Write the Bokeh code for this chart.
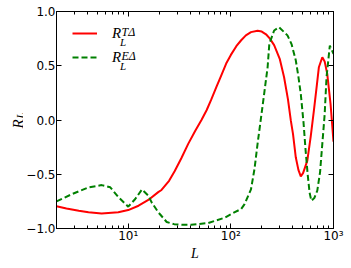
import math
from bokeh.plotting import figure
from bokeh.layouts import row
from bokeh.models import FixedTicker, LogAxis, LinearAxis, Label, Legend, LegendItem, Range1d
from bokeh.embed import file_html
from bokeh.resources import INLINE

# ---- data ----
L_T = [2.0, 2.5, 3.3, 4.1, 5.5, 8.0, 10.0, 12.6, 15.7, 19.6, 21.1, 25.0, 28.4, 33.0, 38.4, 45.0,
       51.7, 58.0, 64.5, 72.0, 80.5, 90.0, 100.0, 113.0, 126.0, 140.0, 157.0, 182.0, 200.0,
       220.0, 240.0, 264.0, 300.0, 330.0, 360.0, 384.0, 403.0, 429.0, 455.0, 480.0, 505.0,
       556.0, 600.0, 644.0, 690.0, 720.0, 778.0, 820.0, 869.0, 936.0, 1000.0]
R_T = [-0.795, -0.815, -0.836, -0.851, -0.862, -0.851, -0.830, -0.790, -0.737, -0.665, -0.645,
       -0.56, -0.47, -0.35, -0.22, -0.10, 0.0, 0.09, 0.19, 0.30, 0.41, 0.52, 0.60, 0.68, 0.735,
       0.78, 0.81, 0.822, 0.815, 0.79, 0.75, 0.69, 0.56, 0.394, 0.19, -0.006, -0.128, -0.344,
       -0.46, -0.519, -0.49, -0.375, -0.15, 0.087, 0.33, 0.486, 0.578, 0.54, 0.425, 0.149, -0.20]

L_E = [2.0, 2.85, 4.13, 5.5, 6.68, 8.05, 10.0, 11.7, 13.6, 15.7, 16.9, 19.6, 23.7, 28.0, 33.0,
       41.0, 60.0, 87.0, 108.0, 126.0, 136.0, 157.0, 170.0, 182.0, 196.0, 211.0, 228.0, 237.0,
       264.0, 295.0, 356.0, 390.0, 429.0, 455.0, 480.0, 510.0, 535.0, 560.0, 585.0, 608.0,
       650.0, 695.0, 740.0, 778.0, 820.0, 855.0, 921.0, 1000.0]
R_E = [-0.75, -0.682, -0.62, -0.60, -0.62, -0.713, -0.799, -0.728, -0.64, -0.697, -0.759, -0.85,
       -0.94, -0.96, -0.965, -0.965, -0.95, -0.90, -0.852, -0.82, -0.775, -0.64, -0.45, -0.22,
       0.01, 0.241, 0.486, 0.702, 0.825, 0.855, 0.78, 0.70, 0.55, 0.40, 0.241, -0.02, -0.282,
       -0.50, -0.67, -0.744, -0.72, -0.651, -0.48, -0.22, 0.05, 0.394, 0.686, 0.61]

x_ticks = [10, 100, 1000]
x_tick_labels = ["10\u00b9", "10\u00b2", "10\u00b3"]
x_minor = [2, 3, 4, 5, 6, 7, 8, 9, 20, 30, 40, 50, 60, 70, 80, 90,
           200, 300, 400, 500, 600, 700, 800, 900]
y_ticks = [-1.0, -0.5, 0.0, 0.5, 1.0]
y_tick_labels = ["\u22121.0", "\u22120.5", "0.0", "0.5", "1.0"]
x_title = "L"
y_title = "R"
y_title_sub = "L"
legend_names = ["R", "R"]
legend_sups = ["T\u0394", "E\u0394"]
legend_subs = ["L", "L"]

SERIF = "Liberation Serif"

# ---- narrow panel holding the y-axis title (its frame is aligned with the main frame) ----
q = figure(width=23, height=268, x_range=Range1d(0, 1), y_range=Range1d(0, 1),
           x_axis_location=None, y_axis_location=None, output_backend="svg",
           toolbar_location=None, min_border=0)
q.outline_line_color = None
q.xgrid.grid_line_color = None
q.ygrid.grid_line_color = None
q.add_layout(Label(text=y_title, x=17, y=100, x_units="screen", y_units="screen",
                   angle=math.pi / 2, text_font=SERIF, text_font_style="italic",
                   text_font_size="15px", text_color="black", text_baseline="alphabetic"))
q.add_layout(Label(text=y_title_sub, x=19.5, y=110, x_units="screen", y_units="screen",
                   angle=math.pi / 2, text_font=SERIF, text_font_style="italic",
                   text_font_size="11px", text_color="black", text_baseline="alphabetic"))

# ---- main plot ----
p = figure(width=328, height=268, x_axis_type="log",
           x_range=Range1d(2, 1000), y_range=Range1d(-1, 1),
           output_backend="svg", toolbar_location=None,
           min_border_left=31, min_border_right=18, min_border_top=11, min_border_bottom=40)
p.xgrid.grid_line_color = None
p.ygrid.grid_line_color = None
p.outline_line_color = "black"
p.background_fill_color = "white"
p.border_fill_color = "white"


def style(ax, labels=True):
    ax.major_tick_in = 5
    ax.major_tick_out = 0
    ax.minor_tick_in = 3
    ax.minor_tick_out = 0
    ax.axis_line_color = "black"
    ax.major_tick_line_color = "black"
    ax.minor_tick_line_color = "black"
    ax.major_label_text_font = "DejaVu Sans"
    ax.major_label_text_font_size = "12px"
    ax.major_label_text_color = "black"
    if not labels:
        ax.major_label_text_font_size = "1px"
        ax.major_label_text_alpha = 0.0
        ax.major_label_standoff = 0


bx = p.xaxis[0]
bx.ticker = FixedTicker(ticks=x_ticks, minor_ticks=x_minor)
bx.major_label_overrides = dict(zip(x_ticks, x_tick_labels))
style(bx)
bx.major_label_standoff = 0
bx.axis_label = x_title
bx.axis_label_text_font = SERIF
bx.axis_label_text_font_style = "italic"
bx.axis_label_text_font_size = "14px"
bx.axis_label_text_color = "black"
bx.axis_label_standoff = 0

ly = p.yaxis[0]
ly.ticker = FixedTicker(ticks=y_ticks)
ly.major_label_overrides = dict(zip(y_ticks, y_tick_labels))
style(ly)
ly.minor_tick_in = 0
ly.major_label_standoff = 1

top = LogAxis(ticker=FixedTicker(ticks=x_ticks, minor_ticks=x_minor))
style(top, labels=False)
p.add_layout(top, "above")
right = LinearAxis(ticker=FixedTicker(ticks=y_ticks))
style(right, labels=False)
right.minor_tick_in = 0
p.add_layout(right, "right")

r1 = p.line(L_T, R_T, line_color="red", line_width=2)
r2 = p.line(L_E, R_E, line_color="green", line_width=2, line_dash="6 3")

legend = Legend(items=[LegendItem(label=legend_names[0], renderers=[r1]),
                       LegendItem(label=legend_names[1], renderers=[r2])],
                location=(16, 161), border_line_color=None, background_fill_alpha=0,
                padding=0, margin=0, spacing=4, glyph_width=25, glyph_height=20,
                label_height=20, label_standoff=15,
                label_text_font=SERIF, label_text_font_style="italic",
                label_text_font_size="15px", label_text_color="black")
p.add_layout(legend)


def lab(text, x, y, size):
    p.add_layout(Label(text=text, x=x, y=y, x_units="screen", y_units="screen",
                       text_font=SERIF, text_font_style="italic",
                       text_font_size=size, text_color="black",
                       text_baseline="alphabetic"))


for i in range(2):
    dy = -24 * i
    lab(legend_sups[i], 65, 196.5 + dy, "12px")
    lab(legend_subs[i], 63.5, 187 + dy, "11px")

open("out.html", "w").write(file_html(row(q, p), INLINE))
